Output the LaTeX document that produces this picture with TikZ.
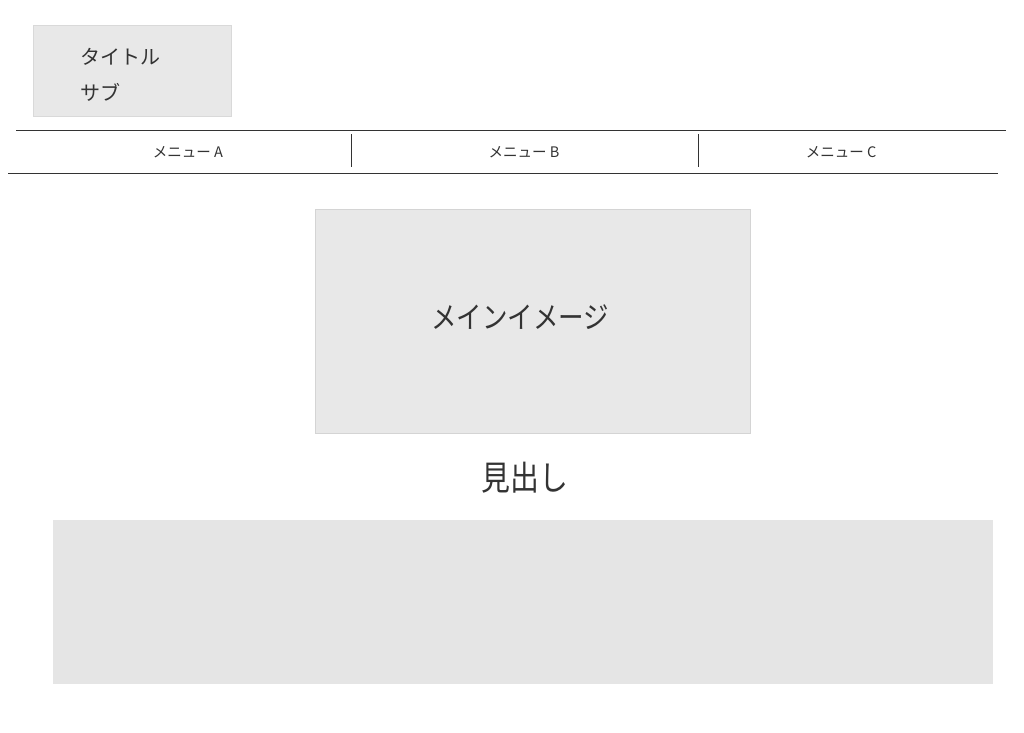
\documentclass[tikz,border=0pt]{standalone}
\usepackage{fontspec}
\setmainfont{Noto Sans CJK JP}
\begin{document}
\begin{tikzpicture}[x=1pt,y=-1pt,
  txt/.style={text=black!80, inner sep=0pt, font=\fontsize{#1}{#1}\selectfont},
  line/.style={draw=black!80, line width=1pt},
  greybox/.style={fill=black!9, draw=black!15, line width=0.8pt}]
\useasboundingbox (0,0) rectangle (1024,732);
\fill[white] (0,0) rectangle (1024,732);
% title box
\draw[greybox] (33,25) rectangle (231,116);
\node[txt=20, anchor=west] (title) at (80,57) {タイトル};
\node[txt=20, anchor=west] (sub) at (80,92) {サブ};
% menu bar
\coordinate (t1) at (16,130); \coordinate (t2) at (1006,130);
\coordinate (b1) at (8,173); \coordinate (b2) at (998,173);
\draw[line] (t1) -- (t2);
\draw[line] (b1) -- (b2);
\coordinate (d1a) at (351,134); \coordinate (d1b) at (351,167);
\coordinate (d2a) at (698,134); \coordinate (d2b) at (698,167);
\draw[line] (d1a) -- (d1b);
\draw[line] (d2a) -- (d2b);
\node[txt=14.5] (ma) at (188,152) {メニュー A};
\node[txt=14.5] (mb) at (524,152) {メニュー B};
\node[txt=14.5] (mc) at (841,152) {メニュー C};
% main image
\draw[fill=black!9, draw=black!17, line width=0.8pt] (315,209) rectangle (750,433);
\node[txt=30, xscale=0.85] (main) at (520,317) {メインイメージ};
% heading
\node[txt=34, xscale=0.85] (head) at (525,478) {見出し};
% content box
\fill[fill=black!10] (53,520) rectangle (993,684);
\end{tikzpicture}
\end{document}
